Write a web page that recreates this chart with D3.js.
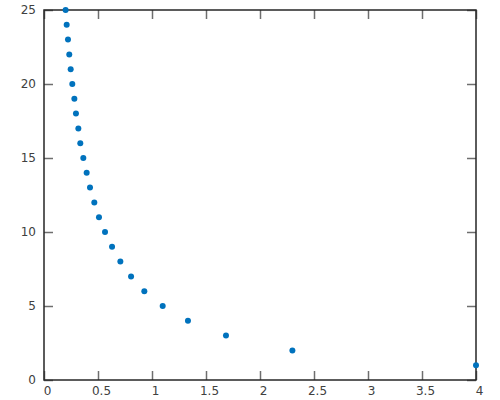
<!DOCTYPE html>
<html><head><meta charset="utf-8">
<script src="https://cdn.jsdelivr.net/npm/d3@7"></script>
<style>body{margin:0;background:#fff}svg{display:block}text{font-family:"DejaVu Sans",sans-serif}</style>
</head><body><svg id="c" width="500" height="400"></svg>
<script>
const yValues = [1,2,3,4,5,6,7,8,9,10,11,12,13,14,15,16,17,18,19,20,21,22,23,24,25];
const xValues = [4.0,2.3,1.685,1.333,1.099,0.929,0.806,0.707,0.63,0.565,0.509,0.466,0.426,0.395,0.364,0.336,0.318,0.296,0.281,0.262,0.247,0.234,0.222,0.21,0.2];
const xTicks = [0,0.5,1,1.5,2,2.5,3,3.5,4];
const yTicks = [0,5,10,15,20,25];

const W=500,H=400, L=44,R=476,T=10,B=380;
const svg=d3.select("#c");
const x=d3.scaleLinear().domain([0,4]).range([L,R]);
const y=d3.scaleLinear().domain([0,25]).range([B,T]);
const tickLen=9, tickColor="#6e6e6e", axisColor="#262626";

// ticks (inward) using axes
const gxB=svg.append("g").attr("transform",`translate(0,${B})`)
  .call(d3.axisBottom(x).tickValues(xTicks).tickFormat(d3.format("")).tickSizeInner(-tickLen).tickSizeOuter(0).tickPadding(6));
const gxT=svg.append("g").attr("transform",`translate(0,${T})`)
  .call(d3.axisTop(x).tickValues(xTicks).tickFormat("").tickSizeInner(-tickLen).tickSizeOuter(0));
const gyL=svg.append("g").attr("transform",`translate(${L},0)`)
  .call(d3.axisLeft(y).tickValues(yTicks).tickSizeInner(-tickLen).tickSizeOuter(0).tickPadding(8));
const gyR=svg.append("g").attr("transform",`translate(${R},0)`)
  .call(d3.axisRight(y).tickValues(yTicks).tickFormat("").tickSizeInner(-tickLen).tickSizeOuter(0));
[gxB,gxT,gyL,gyR].forEach(g=>{
  g.select(".domain").remove();
  g.selectAll(".tick line").attr("stroke",tickColor).attr("stroke-width",1.5);
  g.selectAll(".tick text").attr("fill","#404040").style("font-size","12px").style("font-family","DejaVu Sans, sans-serif");
});
gxB.selectAll(".tick text").attr("dx",3);

// box
svg.append("rect").attr("x",L).attr("y",T).attr("width",R-L).attr("height",B-T)
  .attr("fill","none").attr("stroke",axisColor).attr("stroke-width",1.5);

// points
svg.append("g").selectAll("circle").data(yValues).join("circle")
  .attr("cx",(d,i)=>x(xValues[i])).attr("cy",d=>y(d)).attr("r",3)
  .attr("fill","#0072bd");
</script></body></html>
